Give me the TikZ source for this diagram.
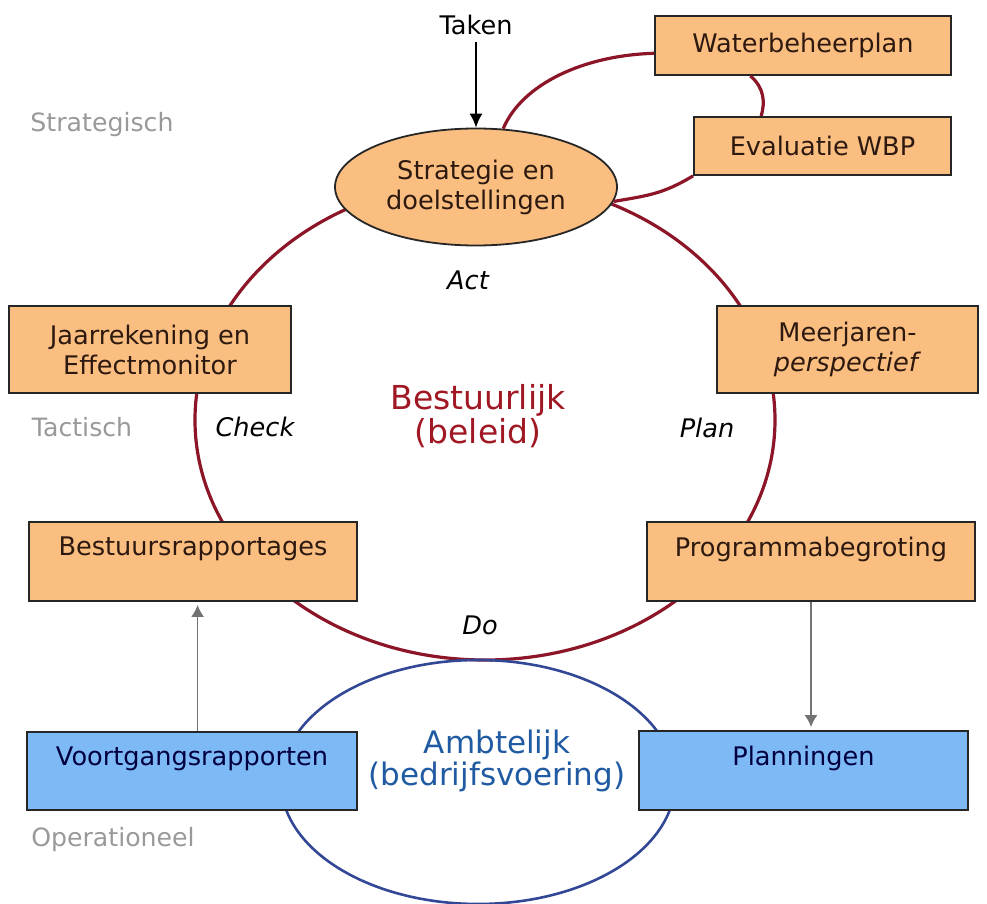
\documentclass[tikz,border=0pt]{standalone}
\usepackage{fontspec}
\setmainfont{DejaVu Sans}
\usetikzlibrary{shapes.geometric,arrows.meta}
\definecolor{oranje}{RGB}{250,190,128}
\definecolor{lichtblauw}{RGB}{125,185,245}
\definecolor{rood}{RGB}{140,22,40}
\definecolor{donkerblauw}{RGB}{50,72,150}
\definecolor{tekstblauw}{RGB}{32,90,162}
\definecolor{tekstrood}{RGB}{160,24,36}
\definecolor{bruin}{RGB}{45,25,15}

\begin{document}
\begin{tikzpicture}[x=0.5pt,y=-0.5pt]
\tikzset{kader/.style={draw=black!85, line width=0.9pt, fill=oranje, text=bruin, align=center, inner sep=0pt, font=\fontsize{12.8}{15}\selectfont},
kaderblauw/.style={kader, fill=lichtblauw, text=black!75!blue},
niveau/.style={text=black!40, font=\fontsize{12.6}{15}\selectfont},
fase/.style={font=\fontsize{12.8}{15}\selectfont\itshape},
verband/.style={draw=rood, line width=1.6pt},
pijl/.style={draw=black!55, line width=0.8pt, -{Latex[length=6pt,width=6.5pt]}, shorten >=1.5pt}}
\useasboundingbox (0,0) rectangle (987,904);
\draw[verband] (485,420) ellipse [x radius=290, y radius=240];
\draw[donkerblauw, line width=1.3pt] (478,782) ellipse [x radius=197, y radius=122];
\node[font=\fontsize{12.8}{15}\selectfont] (taken) at (476,25) {Taken};
\node[kader, ellipse, minimum width=141pt, minimum height=58.5pt] (strat) at (476,187) {Strategie en\\doelstellingen};
\node[kader, minimum width=148pt, minimum height=29.5pt] (wbp) at (803,45.5) {Waterbeheerplan};
\node[kader, minimum width=128.5pt, minimum height=29pt] (evalwbp) at (822.5,146) {Evaluatie WBP};
\node[kader, minimum width=141pt, minimum height=43.5pt] (jaar) at (150,349.5) {Jaarrekening en\\Effectmonitor};
\node[kader, minimum width=130.5pt, minimum height=43.5pt] (meer) at (847.5,349.5) {Meerjaren-\\\textit{perspectief}};
\node[kader, minimum width=164pt, minimum height=39.5pt] (best) at (193,561.5) {Bestuursrapportages\\\mbox{}};
\node[kader, minimum width=164pt, minimum height=39.5pt] (prog) at (811,561.5) {Programmabegroting\\\mbox{}};
\node[kaderblauw, minimum width=165pt, minimum height=39pt] (voort) at (192,771) {Voortgangsrapporten\\\mbox{}};
\node[kaderblauw, minimum width=164.5pt, minimum height=39.5pt] (plann) at (803.5,770.5) {Planningen\\\mbox{}};
\node[niveau] (strategisch) at (102,125) {Strategisch};
\node[niveau] (tactisch) at (82,427) {Tactisch};
\node[niveau] (operationeel) at (113,840) {Operationeel};
\node[fase] (act) at (468,280) {Act};
\node[fase] (check) at (255,427) {Check};
\node[fase] (plan) at (707,428) {Plan};
\node[fase] (do) at (480,625) {Do};
\node[text=tekstrood, align=center, font=\fontsize{16.5}{15.5}\selectfont] (bestuur) at (478,416) {Bestuurlijk\\(beleid)};
\node[text=tekstblauw, align=center, font=\fontsize{15.5}{16}\selectfont] (ambt) at (497,761) {Ambtelijk\\(bedrijfsvoering)};
\draw[line width=0.8pt, -{Latex[length=7pt,width=6.5pt]}] (taken.south) -- (strat.north);
\draw[pijl] (voort.82) -- (voort.82 |- best.south);
\draw[pijl] (prog.south) -- (prog.south |- plann.north);
\draw[verband] (strat.65) .. controls +(19,-45) and +(-70,2) .. (wbp.183);
\draw[verband] (wbp.210) .. controls +(14,12) and +(4,-14) .. (evalwbp.154);
\draw[verband] (evalwbp.193) .. controls +(-30,18) and +(35,-6) .. (strat.-6);
\end{tikzpicture}
\end{document}
